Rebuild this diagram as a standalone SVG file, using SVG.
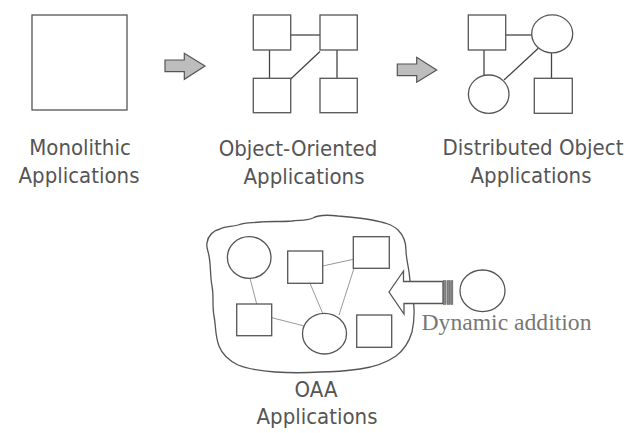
<svg xmlns="http://www.w3.org/2000/svg" width="626" height="433" viewBox="0 0 626 433">
<style>
.box{fill:#fff;stroke:#555;stroke-width:1.3}
.lbl{font-family:"DejaVu Sans Condensed","DejaVu Sans",sans-serif;font-stretch:condensed;font-size:22px;fill:#555;text-anchor:middle}
.con{stroke:#444;stroke-width:1.3;fill:none}
.lite{stroke:#999;stroke-width:1;fill:none}
.garrow{fill:#bdbdbd;stroke:#555;stroke-width:1.2}
</style>
<rect width="626" height="433" fill="#fff"/>
<g id="connectors">
  <line class="con" x1="291" y1="35" x2="320" y2="35"/>
  <line class="con" x1="269.5" y1="50" x2="269.5" y2="78.5"/>
  <line class="con" x1="337" y1="50" x2="337" y2="78.5"/>
  <line class="con" x1="290.7" y1="79" x2="320" y2="51.5"/>
  <line class="con" x1="505.7" y1="35" x2="532.5" y2="35"/>
  <line class="con" x1="484" y1="50" x2="484" y2="75"/>
  <line class="con" x1="551.5" y1="53" x2="551.5" y2="78.3"/>
  <line class="con" x1="504" y1="80" x2="538.3" y2="48.3"/>
  <line class="lite" x1="250" y1="278.3" x2="256.7" y2="304"/>
  <line class="lite" x1="322.7" y1="266" x2="353.3" y2="259.3"/>
  <line class="lite" x1="310" y1="283.3" x2="322.7" y2="313.3"/>
  <line class="lite" x1="354" y1="268.3" x2="339" y2="315"/>
  <line class="lite" x1="271.7" y1="317.7" x2="303.3" y2="325.7"/>
</g>
<g id="monolithic">
  <rect class="box" x="32" y="15" width="95" height="95"/>
  <text class="lbl" x="80" y="155">Monolithic</text>
  <text class="lbl" x="79" y="183">Applications</text>
</g>
<g id="arrow1">
  <polygon class="garrow" points="165,60 184.3,60 184.3,53.3 205,66 184.3,79.3 184.3,71.7 165,71.7"/>
</g>
<g id="object-oriented">
  <rect class="box" x="253.3" y="15" width="37.4" height="35"/>
  <rect class="box" x="320" y="15" width="37.3" height="35"/>
  <rect class="box" x="253.3" y="78.3" width="37.4" height="34.4"/>
  <rect class="box" x="320" y="78.3" width="37.3" height="34.4"/>
  <text class="lbl" x="298" y="156">Object-Oriented</text>
  <text class="lbl" x="304" y="184">Applications</text>
</g>
<g id="arrow2">
  <polygon class="garrow" points="397.3,64 416.7,64 416.7,57.3 436.7,70 416.7,82.3 416.7,75.7 397.3,75.7"/>
</g>
<g id="distributed">
  <rect class="box" x="468.3" y="15" width="37.4" height="35"/>
  <ellipse class="box" cx="552.2" cy="33.8" rx="20.5" ry="19"/>
  <ellipse class="box" cx="488.7" cy="94.2" rx="20.3" ry="19.2"/>
  <rect class="box" x="534.3" y="78.3" width="38" height="35"/>
  <text class="lbl" x="533" y="155">Distributed Object</text>
  <text class="lbl" x="531" y="183">Applications</text>
</g>
<g id="oaa">
  <path fill="none" stroke="#555" stroke-width="1.3" d="M207,243 C208,236 212,231 220,229 C226,226 232,227 238,225 C246,222 252,223 260,222 C270,221 280,222 292,221 C300,220 306,221 313,218 C320,214 330,215 338,216 C350,217 362,218 372,220 C382,222 392,224 398,230 C404,236 406,242 406,250 C406,258 408,264 409,272 C410,280 411,290 413,300 C415,310 414,322 412,332 C409,342 404,350 396,356 C386,363 374,367 360,369 C346,371 334,372 320,372 C305,373 290,373 275,372 C262,371 248,369 238,365 C228,360 222,354 219,346 C215,336 216,326 214,316 C212,305 214,296 212,286 C210,276 211,266 209,256 C208,250 206,247 207,243 Z"/>
  <ellipse class="box" cx="249.2" cy="257.5" rx="21.8" ry="20.8"/>
  <rect class="box" x="287.7" y="251" width="35" height="32.3"/>
  <rect class="box" x="353.3" y="236.7" width="36" height="31.6"/>
  <rect class="box" x="236.7" y="304" width="35" height="31.7"/>
  <ellipse class="box" cx="324.5" cy="333.7" rx="22" ry="20.3"/>
  <rect class="box" x="356.7" y="315" width="35" height="32.3"/>
  <text class="lbl" x="316" y="397">OAA</text>
  <text class="lbl" x="317" y="424">Applications</text>
</g>
<g id="dynamic-addition">
  <polygon fill="#fff" stroke="#555" stroke-width="1.3" points="389,292 403.5,271 403.5,281.5 443,281.5 443,303.5 404,303.5 404,314"/>
  <rect x="443.5" y="280.7" width="2.6" height="23.6" fill="#888" stroke="#555" stroke-width="0.6"/>
  <rect x="447.4" y="280.7" width="2.6" height="23.6" fill="#888" stroke="#555" stroke-width="0.6"/>
  <rect x="450.8" y="280.7" width="2" height="23.6" fill="#888" stroke="#555" stroke-width="0.6"/>
  <ellipse class="box" cx="482.5" cy="290.8" rx="22.5" ry="20.8"/>
  <text x="421.5" y="330" font-family="Liberation Serif,serif" font-size="23" fill="#777" textLength="170" lengthAdjust="spacingAndGlyphs">Dynamic addition</text>
</g>
</svg>
